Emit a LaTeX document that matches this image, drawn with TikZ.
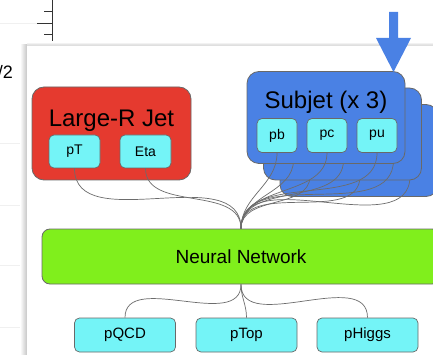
\documentclass[tikz,border=0pt]{standalone}
\usepackage{fontspec}
\setmainfont{Liberation Sans}
\usetikzlibrary{positioning}

\definecolor{jetred}{RGB}{229,58,47}
\definecolor{subblue}{RGB}{74,129,228}
\definecolor{featcyan}{RGB}{116,244,247}
\definecolor{netgreen}{RGB}{128,239,28}
\definecolor{edgegray}{RGB}{105,105,105}
\definecolor{wiregray}{RGB}{108,108,108}

\begin{document}
\begin{tikzpicture}
[x=1pt,y=1pt,
outer/.style ={rectangle, draw=edgegray, line width=0.8pt,
rounded corners=12pt, inner sep=0pt},
feat/.style ={rectangle, draw=edgegray, line width=0.7pt, fill=featcyan,
rounded corners=5pt, inner sep=0pt, minimum width=40pt, minimum height=34pt,
font=\fontsize{14}{16}\selectfont},
outbox/.style ={feat, minimum width=101pt, font=\fontsize{15}{17}\selectfont},
title/.style ={anchor=base, inner sep=0pt, font=\fontsize{24}{28}\selectfont},
wire/.style ={draw=wiregray, line width=0.7pt}]
\useasboundingbox (0,0) rectangle (433,-355);
\clip (0,0) rectangle (433,-355);
% screen behind
\draw[gray!12, line width=0.6pt] (0,-23) -- (37,-23);
\foreach \yy in {143,205,265,327} \draw[gray!12, line width=0.6pt] (0,-\yy) -- (20,-\yy);
\draw[black!80, line width=0.8pt] (52,0) -- (52,-45);
\draw[black!80, line width=0.8pt] (44,-11) -- (52,-11) (37,-23) -- (52,-23) (44,-34) -- (52,-34);
\node[anchor=east, inner sep=0pt, font=\fontsize{18}{20}\selectfont] (half) at (13,-72) {/2};
% panel
\shade[left color=white, right color=gray!45] (20,-45) rectangle (27,-355);
\shade[top color=white, bottom color=gray!30] (27,-42) rectangle (433,-45);
\fill[white] (27,-45) rectangle (433,-355);
\draw[gray!25, line width=0.5pt] (27,-45) -- (433,-45);
% large-R jet
\node[outer, fill=jetred, minimum width=159pt, minimum height=93pt] (jet) at (111.5,-133.5) {};
\node[title] (jettitle) at (111.5,-127) {Large-R Jet};
\node[feat, minimum width=51pt, minimum height=33pt] (pt) at (74.5,-151.5) {pT};
\node[feat, minimum width=51pt, minimum height=33pt] (eta) at (145.5,-151.5) {Eta};
% network
\node[outer, fill=netgreen, rounded corners=8pt, minimum width=398pt, minimum height=55pt,
font=\fontsize{19}{22}\selectfont] (nn) at (241,-256.5) {Neural Network};
\draw[wire] (pt.south) to[out=-90,in=90] (nn.north);
\draw[wire] (eta.south) to[out=-90,in=90] (nn.north);
% subjet 3 (inputs hidden)
\node[outer, fill=subblue, minimum width=158pt, minimum height=92pt] (sj3) at (359,-150.5) {};
\coordinate (pb3) at (310,-176);
\coordinate (pc3) at (360,-176);
\coordinate (pu3) at (410,-176);
\draw[wire] (pb3) to[out=-90,in=90] (nn.north);
\draw[wire] (pc3) to[out=-90,in=90] (nn.north);
\draw[wire] (pu3) to[out=-90,in=90] (nn.north);
% subjet 2 (inputs hidden)
\node[outer, fill=subblue, minimum width=158pt, minimum height=92pt] (sj2) at (342.5,-134) {};
\coordinate (pb2) at (293.5,-160);
\coordinate (pc2) at (343.5,-160);
\coordinate (pu2) at (393.5,-160);
\draw[wire] (pb2) to[out=-90,in=90] (nn.north);
\draw[wire] (pc2) to[out=-90,in=90] (nn.north);
\draw[wire] (pu2) to[out=-90,in=90] (nn.north);
% subjet 1
\node[outer, fill=subblue, minimum width=158pt, minimum height=92pt] (sj1) at (326,-117.5) {};
\node[title] (sjtitle) at (326,-109) {Subjet (x 3)};
\node[feat] (pb1) at (277,-135.5) {pb};
\node[feat] (pc1) at (327,-135.5) {pc};
\node[feat] (pu1) at (377,-135.5) {pu};
\draw[wire] (pb1.south) to[out=-90,in=90] (nn.north);
\draw[wire] (pc1.south) to[out=-90,in=90] (nn.north);
\draw[wire] (pu1.south) to[out=-90,in=90] (nn.north);
% pointer
\fill[subblue] (389,-12) -- (398,-12) -- (398,-38) -- (411,-38) -- (393.5,-72)
-- (376,-38) -- (389,-38) -- cycle;
% outputs
\node[outbox] (qcd) at (125,-335) {pQCD};
\node[outbox] (top) at (246.5,-335) {pTop};
\node[outbox] (higgs) at (367.5,-335) {pHiggs};
\draw[wire] (nn.south) to[out=-90,in=90] (qcd.north);
\draw[wire] (nn.south) to[out=-90,in=90] (top.north);
\draw[wire] (nn.south) to[out=-90,in=90] (higgs.north);
\end{tikzpicture}
\end{document}
